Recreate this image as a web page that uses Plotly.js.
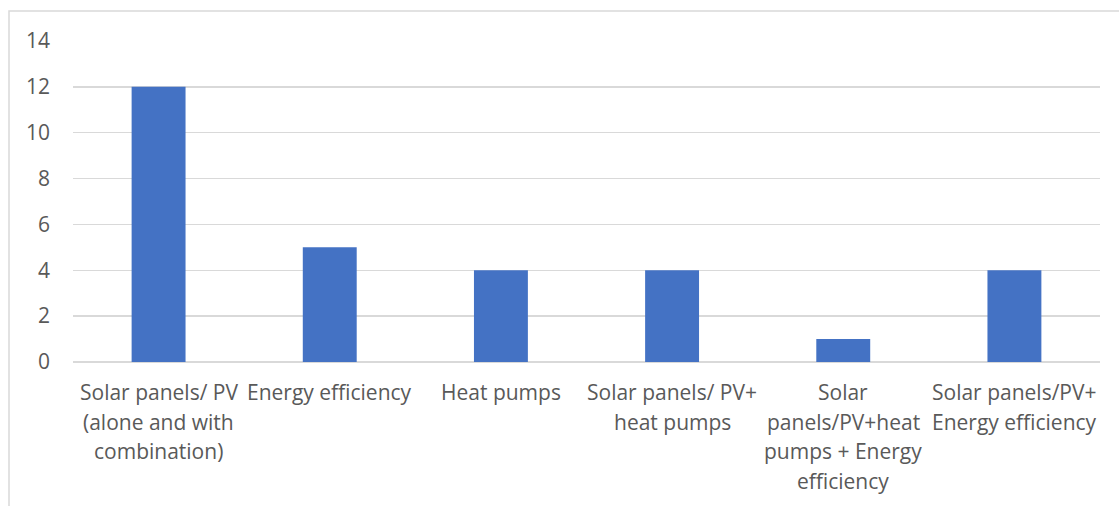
<!DOCTYPE html>
<html>
<head>
<meta charset="utf-8">
<script src="https://cdn.plot.ly/plotly-3.0.1.min.js"></script>
<style>
  html, body { margin: 0; padding: 0; background: #ffffff; }
  #chart { width: 1119px; height: 506px; }
</style>
</head>
<body>
<div id="chart"></div>
<script>
// Categories (each entry holds the wrapped lines of its axis label)
const categoryLines = [
  ["Solar panels/ PV", "(alone and with", "combination)"],
  ["Energy efficiency"],
  ["Heat pumps"],
  ["Solar panels/ PV+", "heat pumps"],
  ["Solar", "panels/PV+heat", "pumps + Energy", "efficiency"],
  ["Solar panels/PV+", "Energy efficiency"]
];
const categories = categoryLines.map(l => l.join(" "));
const counts = [12, 5, 4, 4, 1, 4];
const yTicks = [0, 2, 4, 6, 8, 10, 12, 14];

const textColor = "#595959";
const gridColor = "#d9d9d9";
const fontFamily = "'Open Sans', 'Noto Sans', sans-serif";
const fontSize = 21;

const trace = {
  type: "bar",
  x: categories,
  y: counts,
  marker: { color: "#4472c4", line: { width: 0 } },
  hoverinfo: "x+y"
};

// Category labels drawn line by line below the axis
const lineStep = 29.7;
const annotations = [];
categoryLines.forEach((lines, i) => {
  lines.forEach((txt, j) => {
    annotations.push({
      x: categories[i], xref: "x",
      y: 0, yref: "paper",
      yanchor: "middle", xanchor: "center",
      yshift: -30 - j * lineStep,
      text: txt, showarrow: false,
      font: { family: fontFamily, size: fontSize, color: textColor }
    });
  });
});

const layout = {
  width: 1119, height: 506,
  margin: { l: 73, r: 19, t: 41, b: 144 },
  paper_bgcolor: "#ffffff",
  plot_bgcolor: "#ffffff",
  bargap: 0.685,
  showlegend: false,
  font: { family: fontFamily, size: fontSize, color: textColor },
  xaxis: {
    type: "category",
    showticklabels: false,
    showgrid: false,
    zeroline: false,
    showline: false,
    ticks: ""
  },
  yaxis: {
    range: [0, 14],
    tickvals: yTicks,
    ticktext: yTicks.map(String),
    showgrid: true,
    gridcolor: gridColor,
    gridwidth: 1.5,
    zeroline: true,
    zerolinecolor: gridColor,
    zerolinewidth: 1.5,
    showline: false,
    ticks: "",
    ticklabelstandoff: 22,
    tickfont: { family: fontFamily, size: fontSize, color: textColor }
  },
  annotations: annotations,
  shapes: [{
    type: "rect", xref: "paper", yref: "paper",
    x0: (9 - 73) / 1027, x1: (1130 - 73) / 1027,
    y0: (362 - 520) / 321, y1: (362 - 11) / 321,
    line: { color: gridColor, width: 1.5 },
    fillcolor: "rgba(0,0,0,0)",
    layer: "below"
  }]
};

Plotly.newPlot("chart", [trace], layout, { displayModeBar: false, staticPlot: true });
</script>
</body>
</html>
